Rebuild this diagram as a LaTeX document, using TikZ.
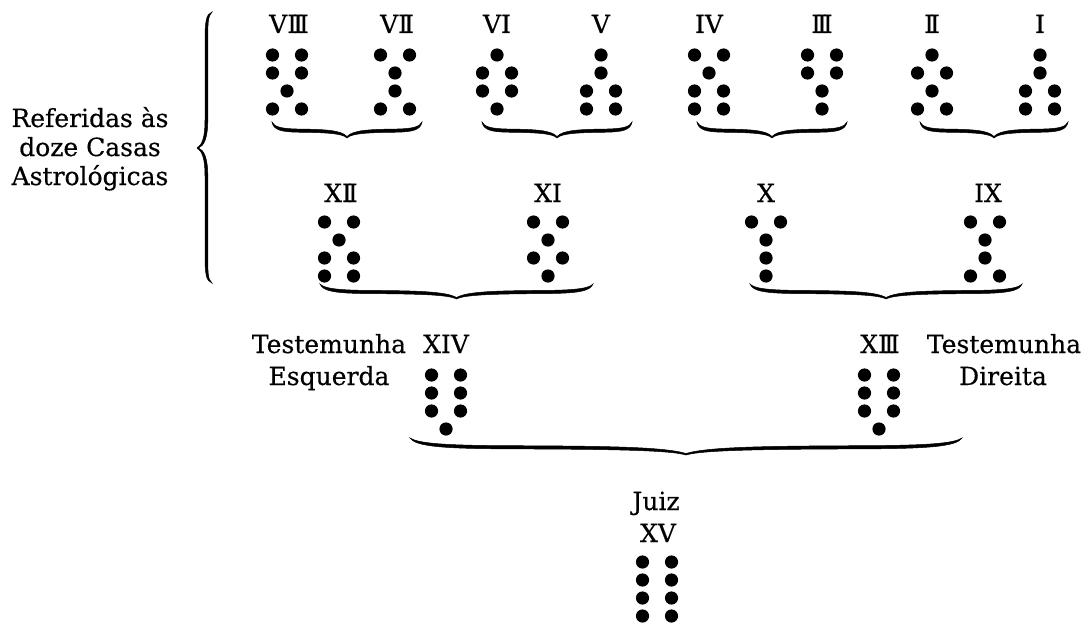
\documentclass[tikz,border=0pt]{standalone}
\usepackage{fontspec}
\setmainfont{DejaVu Serif}[FakeBold=0.4]
\newcommand\rII{I\kern-0.16em I}
\newcommand\rIII{I\kern-0.16em I\kern-0.16em I}
\newcommand\drow[3]{\ifnum#3=1 \fill (#1,#2) circle[radius=6.6pt];\else\fill (#1-14.5,#2) circle[radius=6.6pt] (#1+14.5,#2) circle[radius=6.6pt];\fi}
\newcommand\geofig[6]{\drow{#1}{#2}{#3}\drow{#1}{#2+18}{#4}\drow{#1}{#2+36}{#5}\drow{#1}{#2+54}{#6}}
\newcommand\hbrace[4]{%
 \pgfmathsetmacro\bA{#1}\pgfmathsetmacro\bB{#2}%
 \pgfmathsetmacro\bM{(#1+#2)/2}\pgfmathsetmacro\bW{(#2-#1)/2}%
 \pgfmathsetmacro\bY{#3}\pgfmathsetmacro\bH{#4}\def\bT{3.2}%
 \fill[line width=0.5pt,draw] (\bA,\bY)
  .. controls (\bA+0.02*\bW,\bY+0.5*\bH) and (\bA+0.12*\bW,\bY+0.62*\bH) .. (\bA+0.35*\bW,\bY+0.64*\bH)
  .. controls (\bM-0.3*\bW,\bY+0.66*\bH) and (\bM-0.06*\bW,\bY+0.7*\bH) .. (\bM,\bY+\bH)
  .. controls (\bM+0.06*\bW,\bY+0.7*\bH) and (\bM+0.3*\bW,\bY+0.66*\bH) .. (\bB-0.35*\bW,\bY+0.64*\bH)
  .. controls (\bB-0.12*\bW,\bY+0.62*\bH) and (\bB-0.02*\bW,\bY+0.5*\bH) .. (\bB,\bY)
  .. controls (\bB-0.03*\bW,\bY+0.5*\bH-\bT) and (\bB-0.12*\bW,\bY+0.62*\bH-\bT) .. (\bB-0.35*\bW,\bY+0.64*\bH-\bT)
  .. controls (\bM+0.3*\bW,\bY+0.66*\bH-\bT) and (\bM+0.08*\bW,\bY+0.7*\bH-\bT) .. (\bM,\bY+\bH-1.5)
  .. controls (\bM-0.08*\bW,\bY+0.7*\bH-\bT) and (\bM-0.3*\bW,\bY+0.66*\bH-\bT) .. (\bA+0.35*\bW,\bY+0.64*\bH-\bT)
  .. controls (\bA+0.12*\bW,\bY+0.62*\bH-\bT) and (\bA+0.03*\bW,\bY+0.5*\bH-\bT) .. cycle;
}
\begin{document}
\begin{tikzpicture}[x=1pt,y=-1pt,
  lbl/.style={font=\fontsize{25}{32}\selectfont,inner sep=0pt,anchor=base}]
\useasboundingbox (0,0) rectangle (1086,623);
% left label and big brace
\node[lbl] (ref1) at (90,127) {Referidas às};
\node[lbl] (ref2) at (90,156) {doze Casas};
\node[lbl] (ref3) at (90,185) {Astrológicas};
\fill[line width=0.5pt,draw] (212,12) .. controls (206,14) and (205,22) .. (205,40) -- (205,120)
  .. controls (205,138) and (202,145) .. (197,148)
  .. controls (202,151) and (205,158) .. (205,176) -- (205,255)
  .. controls (205,274) and (206,281) .. (212,283)
  .. controls (207.8,280) and (207.8,272) .. (207.8,255) -- (207.8,176)
  .. controls (207.8,158) and (204,150) .. (198.5,148)
  .. controls (204,146) and (207.8,138) .. (207.8,120) -- (207.8,40)
  .. controls (207.8,24) and (207.8,16) .. cycle;
% row 1
\node[lbl] (l8) at (289,33) {V\rIII};
\node[lbl] (l7) at (397,33) {V\rII};
\node[lbl] (l6) at (497,33) {VI};
\node[lbl] (l5) at (601,33) {V};
\node[lbl] (l4) at (709,33) {IV};
\node[lbl] (l3) at (822,33) {\rIII};
\node[lbl] (l2) at (932,33) {\rII};
\node[lbl] (l1) at (1040,33) {I};
\geofig{287}{55}{2}{2}{1}{2}
\geofig{395}{55}{2}{1}{1}{2}
\geofig{497}{55}{1}{2}{2}{1}
\geofig{601}{55}{1}{1}{2}{2}
\geofig{709}{55}{2}{1}{2}{2}
\geofig{822}{55}{2}{2}{1}{1}
\geofig{932}{55}{1}{2}{1}{2}
\geofig{1040}{55}{1}{1}{2}{2}
\hbrace{272}{422}{122}{16}
\hbrace{482}{632}{122}{16}
\hbrace{697}{847}{122}{16}
\hbrace{920}{1068}{122}{16}
% row 2
\node[lbl] (l12) at (341,202) {X\rII};
\node[lbl] (l11) at (548,202) {XI};
\node[lbl] (l10) at (766,202) {X};
\node[lbl] (l9) at (988,202) {IX};
\geofig{339}{222}{2}{1}{2}{2}
\geofig{548}{222}{2}{1}{2}{1}
\geofig{766}{222}{2}{1}{1}{1}
\geofig{985}{222}{2}{1}{1}{2}
\hbrace{320}{593}{284}{15}
\hbrace{750}{1022}{284}{15}
% row 3
\node[lbl] (t1a) at (329,353) {Testemunha};
\node[lbl] (t1b) at (329,385) {Esquerda};
\node[lbl] (t2a) at (1004,353) {Testemunha};
\node[lbl] (t2b) at (1003,385) {Direita};
\node[lbl] (l14) at (446,353) {XIV};
\node[lbl] (l13) at (880,353) {X\rIII};
\geofig{446}{375}{2}{2}{2}{1}
\geofig{879}{375}{2}{2}{2}{1}
\hbrace{410}{962}{438}{17}
% judge
\node[lbl] (j1) at (656,510) {Juiz};
\node[lbl] (l15) at (658,542) {XV};
\geofig{657}{562}{2}{2}{2}{2}
\end{tikzpicture}
\end{document}
